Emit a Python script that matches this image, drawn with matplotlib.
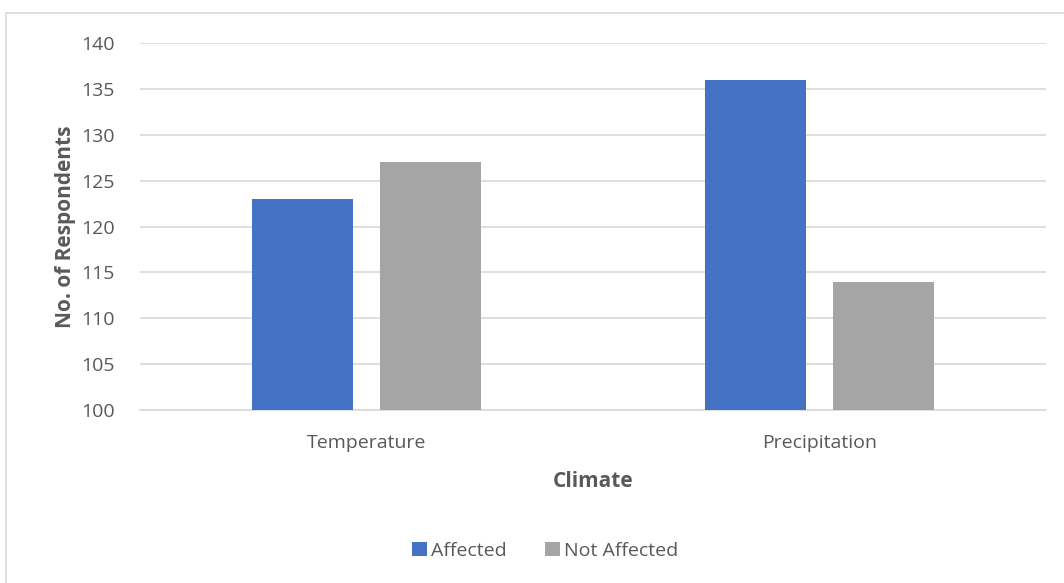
import numpy as np
import matplotlib.pyplot as plt
from matplotlib.patches import Rectangle

# Survey counts per climate factor
categories = ['Temperature', 'Precipitation']
affected = [123, 136]
not_affected = [127, 114]
series_names = ['Affected', 'Not Affected']

plt.rcParams['font.family'] = ['Open Sans', 'DejaVu Sans']
text_color = '#595959'

fig = plt.figure(figsize=(10.64, 5.83), dpi=100)
ax = fig.add_axes([140 / 1064, 1 - 410 / 583, 906 / 1064, 367 / 583])

# chart frame
fig.patches.append(Rectangle((6 / 1064, -0.1), 1.1, 1 - 13 / 583 + 0.1,
                             transform=fig.transFigure, fill=False,
                             edgecolor='#D9D9D9', linewidth=1.2))

x = np.arange(len(categories))
width = 0.223
ax.bar(x - 0.142, affected, width, color='#4472C4', label=series_names[0], zorder=3)
ax.bar(x + 0.142, not_affected, width, color='#A5A5A5', label=series_names[1], zorder=3)

ax.set_xlim(-0.5, 1.5)
ax.set_ylim(100, 140)
ax.set_yticks(range(100, 141, 5))
ax.set_xticks(x)
ax.set_xticklabels(categories)
ax.grid(axis='y', color='#D9D9D9', linewidth=1.2, zorder=0)
for s in ['top', 'right', 'left']:
    ax.spines[s].set_visible(False)
ax.spines['bottom'].set_color('#D9D9D9')
ax.spines['bottom'].set_linewidth(1.2)
ax.tick_params(axis='both', length=0, labelsize=14, colors=text_color)
ax.tick_params(axis='y', pad=18)
ax.tick_params(axis='x', pad=17)

ax.set_xlabel('Climate', fontsize=15, fontweight='bold', color=text_color, labelpad=14)
ax.set_ylabel('No. of Respondents', fontsize=15, fontweight='bold', color=text_color, labelpad=4)

fig.legend(loc='center', bbox_to_anchor=(545 / 1064, 1 - 551 / 583), ncol=2,
           frameon=False, fontsize=14, handlelength=0.75, handleheight=0.75,
           handletextpad=0.2, columnspacing=2.0, labelcolor=text_color)

fig.savefig('out.png', dpi=100)
